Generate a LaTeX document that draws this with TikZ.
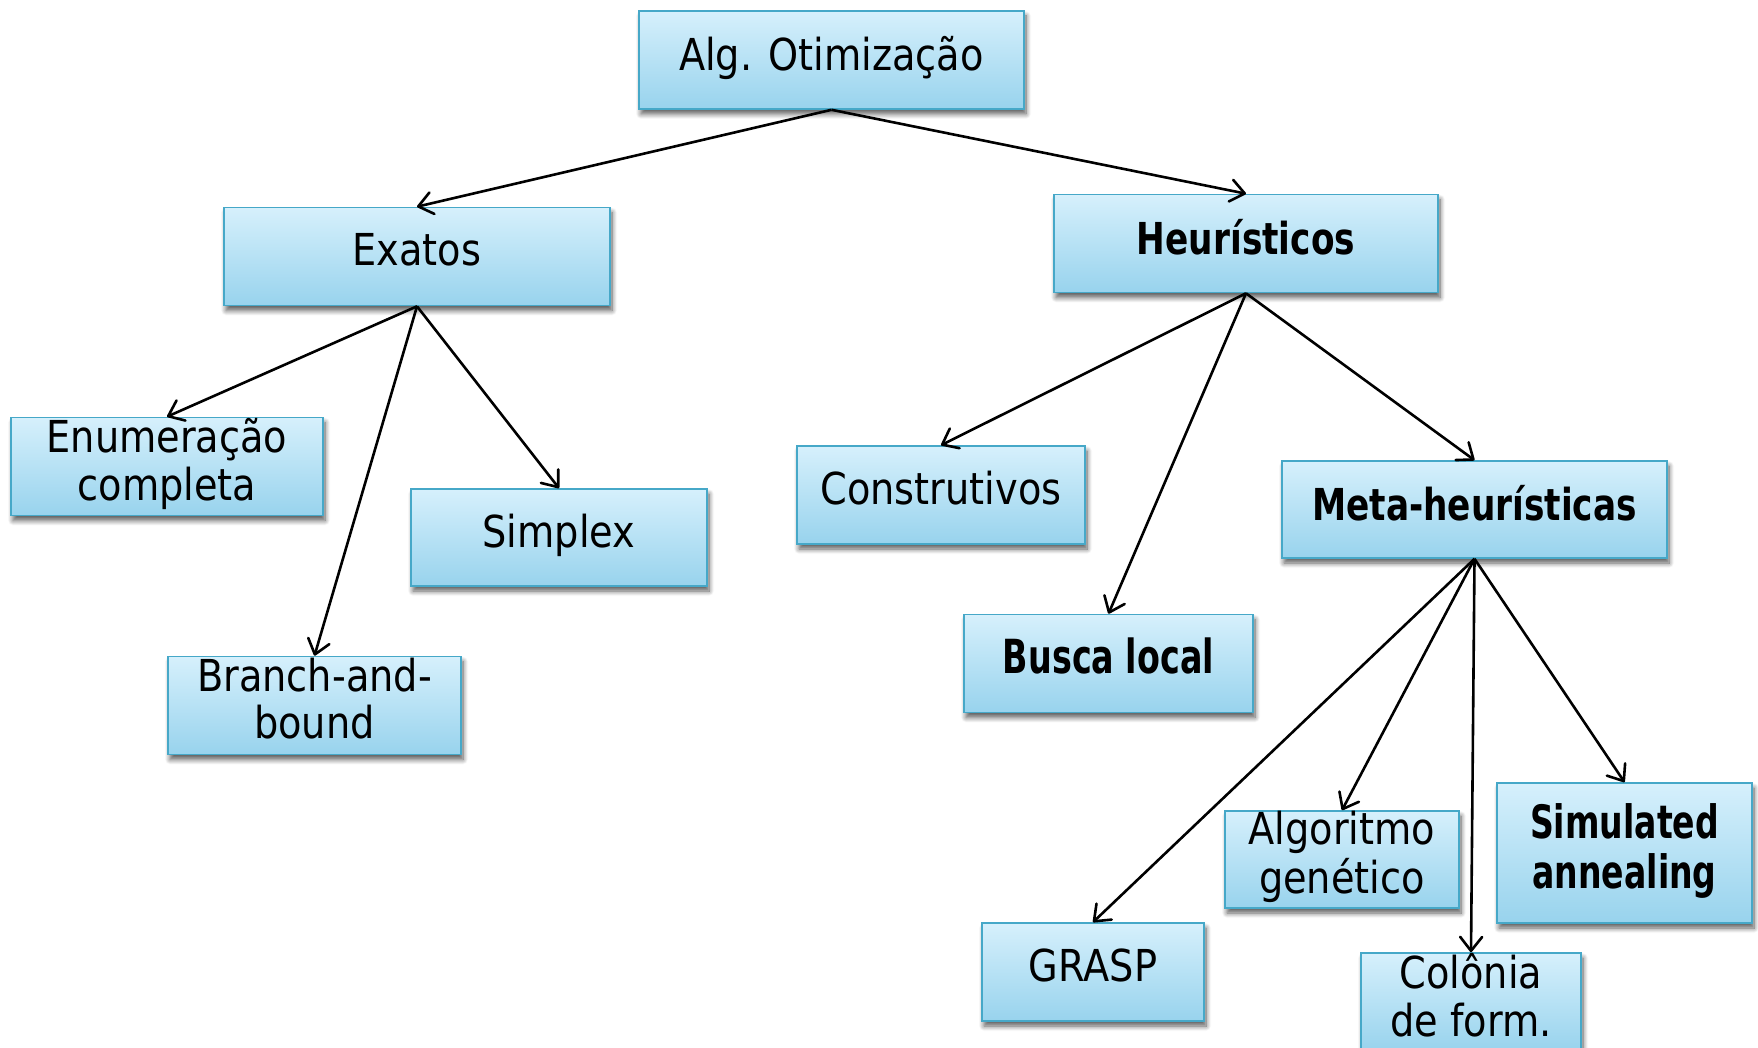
\documentclass[tikz,border=0pt]{standalone}
\usepackage{fontspec}
\setmainfont{DejaVu Sans}
\usetikzlibrary{arrows.meta,shadows.blur}
\definecolor{boxtop}{RGB}{214,240,252}
\definecolor{boxbot}{RGB}{152,211,237}
\definecolor{boxline}{RGB}{70,168,200}
% horizontally condensed, centred label (one or more lines)
\newcommand{\boxtext}[2]{\scalebox{#1}[1]{\begin{tabular}{@{}c@{}}#2\end{tabular}}}

\begin{document}
\begin{tikzpicture}[x=1pt,y=-1pt,
  box/.style={draw=boxline, line width=1.6pt, top color=boxtop, bottom color=boxbot,
    inner sep=0pt, minimum height=98pt,
    blur shadow={shadow xshift=2pt, shadow yshift=-5pt, shadow blur radius=5pt,
      shadow blur steps=8, shadow opacity=65},
    font=\fontsize{44}{47}\selectfont},
  link/.style={-{Straight Barb[length=14pt,width=22pt,line width=2.6pt,round]},
    line width=2.6pt, black}]
\useasboundingbox (0,0) rectangle (1758,1048);

% root
\node[box, minimum width=385pt] (alg) at (831.5,60) {\boxtext{0.87}{Alg. Otimização}};

% level 1
\node[box, minimum width=386pt] (exatos) at (417,256.5) {\boxtext{0.87}{Exatos}};
\node[box, minimum width=384pt] (heur) at (1246,243.5) {\boxtext{0.78}{\bfseries Heurísticos}};

% exact methods
\node[box, minimum width=312pt] (enum) at (167,466.5) {\boxtext{0.87}{Enumeração\\completa}};
\node[box, minimum width=296pt, minimum height=97pt] (simplex) at (559,537.5) {\boxtext{0.87}{Simplex}};
\node[box, minimum width=293pt] (branch) at (314.5,705.5) {\boxtext{0.87}{Branch-and-\\bound}};

% heuristic methods
\node[box, minimum width=288pt] (constr) at (941,495) {\boxtext{0.87}{Construtivos}};
\node[box, minimum width=289pt] (busca) at (1108.5,663.5)
  {\fontsize{47}{50}\selectfont\boxtext{0.71}{\bfseries Busca local}};
\node[box, minimum width=385pt, minimum height=97pt] (meta) at (1474.5,509.5)
  {\boxtext{0.78}{\bfseries Meta-heurísticas}};

% metaheuristics
\node[box, minimum width=222pt] (grasp) at (1093,972) {\boxtext{0.87}{GRASP}};
\node[box, minimum width=234pt, minimum height=97pt] (alggen) at (1342,859.5)
  {\boxtext{0.87}{Algoritmo\\genético}};
\node[box, minimum width=220pt] (colonia) at (1471,1002) {\boxtext{0.87}{Colônia\\de form.}};
\node[box, minimum width=255pt, minimum height=140pt] (simul) at (1624.5,853)
  {\fontsize{46}{50}\selectfont\boxtext{0.72}{\bfseries Simulated\\\bfseries annealing}};

% connectors
\draw[link] (alg.south) -- (exatos.north);
\draw[link] (alg.south) -- (heur.north);
\draw[link] (exatos.south) -- (enum.north);
\draw[link] (exatos.south) -- (branch.north);
\draw[link] (exatos.south) -- (simplex.north);
\draw[link] (heur.south) -- (constr.north);
\draw[link] (heur.south) -- (busca.north);
\draw[link] (heur.south) -- (meta.north);
\draw[link] (meta.south) -- (grasp.north);
\draw[link] (meta.south) -- (alggen.north);
\draw[link] (meta.south) -- (colonia.north);
\draw[link] (meta.south) -- (simul.north);
\end{tikzpicture}
\end{document}
